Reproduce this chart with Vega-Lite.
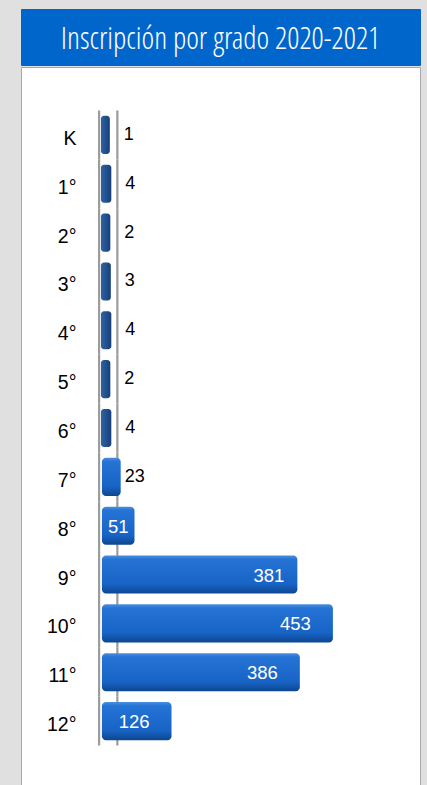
{
  "$schema": "https://vega.github.io/schema/vega-lite/v6.json",
  "background": "#e0e0e0",
  "padding": {"left": 20, "top": 8, "right": 8, "bottom": 0},
  "spacing": 0,
  "config": {"font": "Liberation Sans"},
  "datasets": {
    "grades": [
      {"grade": "K", "value": 1},
      {"grade": "1°", "value": 4},
      {"grade": "2°", "value": 2},
      {"grade": "3°", "value": 3},
      {"grade": "4°", "value": 4},
      {"grade": "5°", "value": 2},
      {"grade": "6°", "value": 4},
      {"grade": "7°", "value": 23},
      {"grade": "8°", "value": 51},
      {"grade": "9°", "value": 381},
      {"grade": "10°", "value": 453},
      {"grade": "11°", "value": 386},
      {"grade": "12°", "value": 126}
    ]
  },
  "vconcat": [
    {
      "width": 399,
      "height": 56,
      "view": {"fill": "#0066cc", "stroke": "#0066cc"},
      "data": {"values": [{"title": "Inscripción por grado 2020-2021"}]},
      "mark": {"type": "text", "font": "'Open Sans Condensed Light', 'Open Sans Condensed', 'DejaVu Sans Condensed', 'Open Sans'", "fontWeight": 300, "fontSize": 30.5, "color": "white", "baseline": "middle", "align": "center", "dy": 3},
      "encoding": {"text": {"field": "title"}}
    },
    {
      "width": 399,
      "height": 722,
      "view": {"fill": "white", "stroke": "#a8a8a8"},
      "data": {"name": "grades"},
      "encoding": {
        "y": {
          "field": "grade", "type": "nominal", "sort": null,
          "scale": {"paddingInner": 0.22, "paddingOuter": 1.015},
          "axis": {"title": null, "orient": "left", "offset": -55, "domain": false, "ticks": false, "tickSize": 0, "labelPadding": 0, "labelOffset": 4, "labelFontSize": 19.5, "labelColor": "black", "labelFont": "Liberation Sans"}
        }
      },
      "layer": [
        {
          "mark": {"type": "bar", "color": "#9c9c9c", "height": {"band": 1.282}},
          "encoding": {
            "x": {"datum": -23, "type": "quantitative", "scale": {"domain": [-179, 629.5], "nice": false, "zero": false}, "axis": null},
            "x2": {"datum": -18.5}
          }
        },
        {
          "mark": {"type": "bar", "color": "#9c9c9c", "height": {"band": 1.282}},
          "encoding": {
            "x": {"datum": 14, "type": "quantitative"},
            "x2": {"datum": 18.5}
          }
        },
        {
          "transform": [{"filter": "datum.value < 10"}],
          "mark": {"type": "bar", "cornerRadius": 3,
            "fill": {"gradient": "linear", "x1": 0, "y1": 0, "x2": 1, "y2": 0, "stops": [{"offset": 0, "color": "#2e64a6"}, {"offset": 1, "color": "#173f78"}]}},
          "encoding": {
            "x": {"field": "value", "type": "quantitative"},
            "x2": {"datum": -17}
          }
        },
        {
          "transform": [{"filter": "datum.value >= 10"}],
          "mark": {"type": "bar", "cornerRadius": 4,
            "fill": {"gradient": "linear", "x1": 0, "y1": 0, "x2": 0, "y2": 1, "stops": [{"offset": 0, "color": "#4a90e0"}, {"offset": 0.1, "color": "#2573d4"}, {"offset": 0.75, "color": "#1764c6"}, {"offset": 1, "color": "#0d468f"}]}},
          "encoding": {
            "x": {"field": "value", "type": "quantitative"},
            "x2": {"datum": -15}
          }
        },
        {
          "transform": [{"filter": "datum.value < 10"}],
          "mark": {"type": "text", "align": "left", "baseline": "middle", "dx": 14, "dy": 0, "fontSize": 18, "color": "black"},
          "encoding": {
            "x": {"field": "value", "type": "quantitative"},
            "text": {"field": "value"}
          }
        },
        {
          "transform": [{"filter": "datum.value == 23"}],
          "mark": {"type": "text", "align": "left", "baseline": "middle", "dx": 4, "dy": 0, "fontSize": 18, "color": "black"},
          "encoding": {
            "x": {"field": "value", "type": "quantitative"},
            "text": {"field": "value"}
          }
        },
        {
          "transform": [{"filter": "datum.value == 51"}],
          "mark": {"type": "text", "align": "right", "baseline": "middle", "dx": -6, "dy": 1, "fontSize": 18.5, "color": "white"},
          "encoding": {
            "x": {"field": "value", "type": "quantitative"},
            "text": {"field": "value"}
          }
        },
        {
          "transform": [{"filter": "datum.value == 381"}],
          "mark": {"type": "text", "align": "right", "baseline": "middle", "dx": -13, "dy": 1, "fontSize": 18.5, "color": "white"},
          "encoding": {
            "x": {"field": "value", "type": "quantitative"},
            "text": {"field": "value"}
          }
        },
        {
          "transform": [{"filter": "datum.value == 126 || datum.value == 386 || datum.value == 453"}],
          "mark": {"type": "text", "align": "right", "baseline": "middle", "dx": -22, "dy": 1, "fontSize": 18.5, "color": "white"},
          "encoding": {
            "x": {"field": "value", "type": "quantitative"},
            "text": {"field": "value"}
          }
        }
      ]
    }
  ]
}
